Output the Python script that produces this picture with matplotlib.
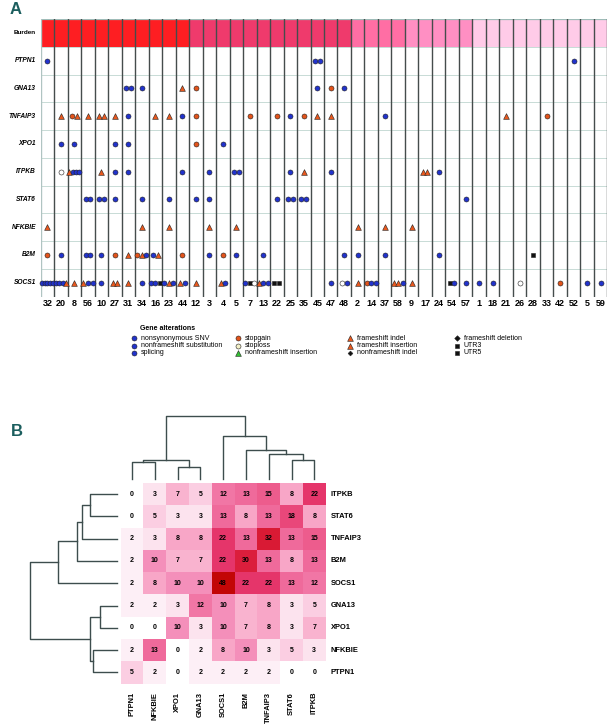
import numpy as np
import matplotlib.pyplot as plt
from matplotlib.colors import LinearSegmentedColormap

plt.rcParams['font.family'] = ['Liberation Sans', 'DejaVu Sans']

# ---------------- data: panel A (oncoprint) ----------------
samples = ["32", "20", "8", "56", "10", "27", "31", "34", "16", "23", "44", "12",
           "3", "4", "5", "7", "13", "22", "25", "35", "45", "47", "48", "2",
           "14", "37", "58", "9", "17", "24", "54", "57", "1", "18", "21", "26",
           "28", "33", "42", "52", "5", "59"]
burden = [5, 5, 5, 5, 5, 5, 5, 5, 5, 5, 5, 4, 4, 4, 4, 4, 4, 4, 4, 4, 4, 4,
          4, 3, 3, 3, 3, 2, 2, 2, 2, 2, 1, 1, 1, 1, 1, 1, 1, 1, 1, 1]
burden_colors = ["#ffcbe8", "#ff8fc3", "#ff6ea4", "#ef3a6c", "#fe1e22"]

genes = ["PTPN1", "GNA13", "TNFAIP3", "XPO1", "ITPKB", "STAT6", "NFKBIE", "B2M", "SOCS1"]

# column index -> alteration codes (s=SNV, g=stopgain, l=stoploss, f=frameshift, u=UTR)
alt_PTPN1 = {0: "s", 20: "ss", 39: "s"}
alt_GNA13 = {6: "ss", 7: "s", 10: "f", 11: "g", 20: "s", 21: "g", 22: "s"}
alt_TNFAIP3 = {1: "f", 2: "gf", 3: "f", 4: "ff", 5: "f", 6: "s", 8: "f", 9: "f",
               10: "s", 11: "g", 15: "g", 17: "g", 18: "s", 19: "g", 20: "f",
               21: "f", 25: "s", 34: "f", 37: "g"}
alt_XPO1 = {1: "s", 2: "s", 5: "s", 6: "s", 11: "g", 13: "s"}
alt_ITPKB = {1: "l", 2: "fsss", 4: "f", 5: "s", 6: "s", 10: "s", 12: "s", 14: "ss",
             18: "s", 19: "f", 21: "s", 28: "ff", 29: "s"}
alt_STAT6 = {3: "ss", 4: "ss", 5: "s", 7: "s", 9: "s", 11: "s", 12: "s", 17: "s",
             18: "ss", 19: "ss", 31: "s"}
alt_NFKBIE = {0: "f", 7: "f", 9: "f", 12: "f", 14: "f", 23: "f", 25: "f", 27: "f"}
alt_B2M = {0: "g", 1: "s", 3: "ss", 4: "s", 5: "g", 6: "f", 7: "gfs", 8: "sf",
           10: "g", 12: "s", 13: "g", 14: "s", 16: "s", 22: "s", 23: "s", 25: "s",
           29: "s", 36: "u"}
alt_SOCS1 = {0: "sssss", 1: "sssf", 2: "f", 3: "fss", 4: "s", 5: "ff", 6: "f", 7: "s",
             8: "ssu", 9: "sfs", 10: "fs", 11: "f", 13: "fs", 15: "sul", 16: "fss",
             17: "uu", 21: "s", 22: "ls", 23: "f", 24: "gss", 26: "ffs", 27: "f",
             30: "us", 31: "s", 32: "s", 33: "s", 35: "l", 38: "g", 40: "s", 41: "s"}
alterations = [alt_PTPN1, alt_GNA13, alt_TNFAIP3, alt_XPO1, alt_ITPKB,
               alt_STAT6, alt_NFKBIE, alt_B2M, alt_SOCS1]

legend_labels = ["nonsynonymous SNV", "nonframeshift substitution", "splicing",
                 "stopgain", "stoploss", "nonframeshift insertion",
                 "frameshift indel", "frameshift insertion", "nonframeshift indel",
                 "frameshift deletion", "UTR3", "UTR5"]
legend_codes = ["s", "s", "s", "g", "y", "i", "f", "f", "n", "d", "u", "u"]

# ---------------- data: panel B (co-occurrence heatmap) ----------------
heat_cols = ["PTPN1", "NFKBIE", "XPO1", "GNA13", "SOCS1", "B2M", "TNFAIP3", "STAT6", "ITPKB"]
heat_rows = ["ITPKB", "STAT6", "TNFAIP3", "B2M", "SOCS1", "GNA13", "XPO1", "NFKBIE", "PTPN1"]
counts = np.array([
    [0, 3, 7, 5, 12, 13, 15, 8, 22],
    [0, 5, 3, 3, 13, 8, 13, 18, 8],
    [2, 3, 8, 8, 22, 13, 32, 13, 15],
    [2, 10, 7, 7, 22, 30, 13, 8, 13],
    [2, 8, 10, 10, 48, 22, 22, 13, 12],
    [2, 2, 3, 12, 10, 7, 8, 3, 5],
    [0, 0, 10, 3, 10, 7, 8, 3, 7],
    [2, 13, 0, 2, 8, 10, 3, 5, 3],
    [5, 2, 0, 2, 2, 2, 2, 0, 0],
])
# hierarchical merges: (child, child, height); ints refer to earlier merges
merges = [("NFKBIE", "PTPN1", 24.2),
          ("GNA13", "XPO1", 16.5),
          (0, 1, 26.5),
          ("STAT6", "ITPKB", 26.8),
          ("TNFAIP3", 3, 35.0),
          ("B2M", 4, 39.5),
          ("SOCS1", 5, 59.0),
          (2, 6, 86.7)]

# ---------------- figure ----------------
W, H = 616, 726
fig = plt.figure(figsize=(W / 100, H / 100), dpi=100)


def px_axes(x0, y0, x1, y1):
    return fig.add_axes([x0 / W, 1 - y1 / H, (x1 - x0) / W, (y1 - y0) / H])


styles = {
    "s": dict(marker="o", c="#2233cc", s=13),
    "g": dict(marker="o", c="#e2541c", s=13),
    "l": dict(marker="o", c="#ffffff", s=13),
    "y": dict(marker="o", c="#f3f0c8", s=13),
    "f": dict(marker="^", c="#e8581e", s=17),
    "i": dict(marker="^", c="#33c033", s=17),
    "u": dict(marker="s", c="#111111", s=10),
    "d": dict(marker="D", c="#111111", s=8),
    "n": dict(marker="D", c="#111111", s=6),
}

ov = fig.add_axes([0, 0, 1, 1])
ov.set_xlim(0, W)
ov.set_ylim(H, 0)
ov.axis("off")

# panel A
ax = px_axes(40.7, 19, 607.3, 296.5)
ax.set_xlim(0, len(samples))
ax.set_ylim(len(genes) + 1, 0)
ax.axis("off")

ax.bar(np.arange(len(samples)) + 0.5, 1, width=1, bottom=0,
       color=[burden_colors[b - 1] for b in burden], linewidth=0, zorder=1)
for r in range(1, len(genes) + 1):
    ax.axhline(r, color="#c8dbd6", lw=0.7, zorder=2)
ax.axhline(0, color="#9fbcb8", lw=0.9, zorder=2)
ax.axhline(len(genes) + 1, color="#c8dbd6", lw=0.7, zorder=2)
ax.axvline(0, color="#b0c4c2", lw=1.0, zorder=3)
for c in range(1, len(samples) + 1):
    ax.axvline(c, color="#454c4c", lw=1.0, zorder=3)

for gi, (gene, alts) in enumerate(zip(genes, alterations)):
    y = gi + 1.5
    for col, codes in alts.items():
        n = len(codes)
        sp = min(0.34, 0.75 / (n - 1)) if n > 1 else 0
        offs = (np.arange(n) - (n - 1) / 2) * sp
        for code, o in zip(codes, offs):
            ax.scatter(col + 0.5 + o, y, edgecolors="#222222", linewidths=0.4,
                       zorder=4, clip_on=False, **styles[code])

ax.text(-0.35, 0.5, "Burden", ha="right", va="center", fontsize=4.6, fontweight="bold")
for gi, gene in enumerate(genes):
    ax.text(-0.35, gi + 1.5, gene, ha="right", va="center", fontsize=4.8,
            fontweight="bold", fontstyle="italic")
for i, s in enumerate(samples):
    ax.text(i + 0.5, len(genes) + 1.25, s, ha="center", va="center",
            fontsize=6.5, fontweight="bold")

# legend
ov.text(140, 329, "Gene alterations", fontsize=5, fontweight="bold", va="center")
leg_x = [134, 238, 350, 457]
leg_y = [338, 345.5, 353]
for k, (lab, code) in enumerate(zip(legend_labels, legend_codes)):
    lx, ly = leg_x[k // 3], leg_y[k % 3]
    ov.scatter(lx, ly, edgecolors="#222222", linewidths=0.4, **styles[code])
    ov.text(lx + 7, ly, lab, fontsize=5, va="center")

ov.text(15.5, 9, "A", fontsize=12, fontweight="bold", color="#1b5e5e",
        ha="center", va="center")
ov.text(16.5, 431, "B", fontsize=12, fontweight="bold", color="#1b5e5e",
        ha="center", va="center")

# panel B heatmap
heat_cmap = LinearSegmentedColormap.from_list("cooc", [
    (0.0, "#ffffff"), (2 / 48, "#fdeef5"), (5 / 48, "#fbcde1"), (8 / 48, "#f8a5c6"),
    (10 / 48, "#f48fba"), (13 / 48, "#ef6a9b"), (18 / 48, "#e9477a"),
    (22 / 48, "#e5356a"), (31 / 48, "#da1b37"), (1.0, "#c20606")])
hx = px_axes(120.7, 483, 325.7, 683.5)
hx.pcolormesh(np.arange(len(heat_cols) + 1), np.arange(len(heat_rows) + 1), counts,
              cmap=heat_cmap, vmin=0, vmax=48)
hx.set_xlim(0, len(heat_cols))
hx.set_ylim(len(heat_rows), 0)
hx.axis("off")
for i in range(len(heat_rows)):
    for j in range(len(heat_cols)):
        hx.text(j + 0.5, i + 0.5, str(counts[i, j]), ha="center", va="center",
                fontsize=5, fontweight="bold")
for i, g in enumerate(heat_rows):
    hx.text(len(heat_cols) + 0.23, i + 0.5, g, ha="left", va="center",
            fontsize=5.4, fontweight="bold")
for j, g in enumerate(heat_cols):
    hx.text(j + 0.5, len(heat_rows) + 0.38, g, ha="center", va="top",
            rotation=90, fontsize=5.4, fontweight="bold")


def draw_dendro(dax, order, vertical):
    pos = {g: i + 0.5 for i, g in enumerate(order)}
    hgt = {g: 0.0 for g in order}
    for k, (a, b, h) in enumerate(merges):
        xs = [pos[a], pos[a], pos[b], pos[b]]
        ys = [hgt[a], h, h, hgt[b]]
        if vertical:
            dax.plot(xs, ys, color="#3d4d4d", lw=1.0, clip_on=False)
        else:
            dax.plot(ys, xs, color="#3d4d4d", lw=1.0, clip_on=False)
        pos[k] = (pos[a] + pos[b]) / 2
        hgt[k] = h


tdx = px_axes(120.7, 416, 325.7, 479.3)
tdx.set_xlim(0, len(heat_cols))
tdx.set_ylim(0, 86.7)
tdx.axis("off")
draw_dendro(tdx, heat_cols, True)

ldx = px_axes(30, 483, 116.7, 683.5)
ldx.set_xlim(86.7, 0)
ldx.set_ylim(len(heat_rows), 0)
ldx.axis("off")
draw_dendro(ldx, heat_rows, False)

fig.savefig("out.png", dpi=100)
